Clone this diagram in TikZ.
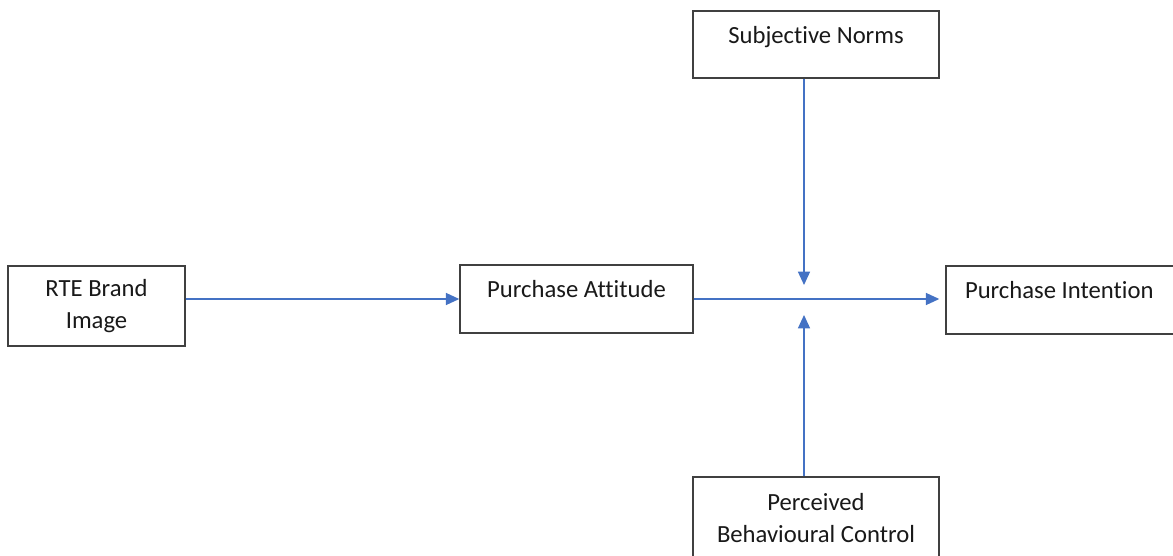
\documentclass[tikz,border=0pt]{standalone}
\usepackage{fontspec}
\setmainfont{Carlito}[Ligatures=NoCommon]
\usetikzlibrary{arrows.meta}
\definecolor{arrowblue}{HTML}{4472C4}
\definecolor{boxgray}{HTML}{404040}

\begin{document}
\begin{tikzpicture}[x=0.75pt, y=-0.75pt,
				factor/.style={
				% The shape:
				rectangle,
				% The border:
				line width=1.1pt,
				draw=boxgray,
				% The font:
				font=\fontsize{18.5}{24}\selectfont,
				text=black!90
				},
				uptext/.style={
				% pushes the text to the upper half
				text depth=15pt
				},
				link/.style={
				line width=1pt,
				draw=arrowblue,
				-{Triangle[length=10pt,width=9pt]}
				},
				]
    \tikzstyle{every node} = [align=center]
    \clip (0,0) rectangle (1173,556);
    \fill [white] (0,0) rectangle (1173,556);
    % the five boxes
    \node [factor, minimum width=132.75pt, minimum height=60pt] (rte) at (96.5,306) {RTE Brand\\Image};
    \node [factor, uptext, minimum width=174.75pt, minimum height=51pt] (pa) at (576.5,299) {Purchase Attitude};
    \node [factor, uptext, minimum width=184.5pt, minimum height=50.25pt] (sn) at (816,44.5) {Subjective Norms};
    \node [factor, uptext, align=flush left, text width=159pt, inner xsep=14.25pt, minimum height=51pt] (pi) at (1071,300) {Purchase Intention};
    \node [factor, minimum width=184.5pt, minimum height=61.5pt] (pbc) at (816,518) {Perceived\\Behavioural Control};
    % arrow ends in the middle
    \coordinate (snend) at (804,285);
    \coordinate (pbcend) at (804,315);
    \draw [link] (rte.east |- pa.west) -- (pa.west);
    \draw [link] (pa.east) -- ([xshift=-4.5pt]pa.east -| pi.west);
    \draw [link] (sn.south -| snend) -- (snend);
    \draw [link] (pbc.north -| pbcend) -- (pbcend);
\end{tikzpicture}
\end{document}
